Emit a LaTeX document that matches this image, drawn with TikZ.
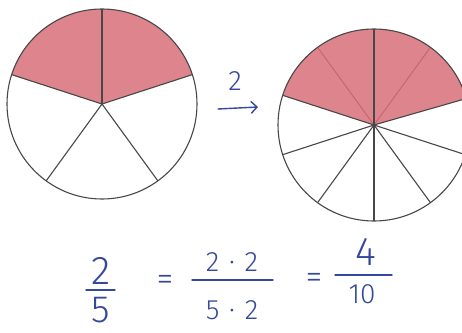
\documentclass[tikz,border=0pt]{standalone}
\usepackage{fontspec}
\setmainfont{Fira Sans Light}
\usetikzlibrary{arrows.meta}
\definecolor{ink}{RGB}{52,72,158}
\definecolor{pinkfill}{RGB}{222,132,140}
\definecolor{pinkline}{RGB}{196,100,110}
\definecolor{pencil}{RGB}{72,72,72}
\begin{document}
\begin{tikzpicture}[x=1pt,y=1pt,
  spoke/.style={draw=pencil,line width=1.1pt},
  rim/.style={draw=pencil,line width=1.1pt},
  inkline/.style={draw=ink,line width=1.4pt,line cap=round},
  big/.style={text=ink,inner sep=0pt,font=\fontsize{40}{40}\selectfont},
  mid/.style={text=ink,inner sep=0pt,font=\fontsize{28}{28}\selectfont},
  eqs/.style={text=ink,inner sep=0pt,font=\fontsize{34}{34}\selectfont}]
\useasboundingbox (0,0) rectangle (462,332);
\clip (0,0) rectangle (462,332);
\fill[white] (0,0) rectangle (462,332);
% left circle
\coordinate (L) at (102,228);
\fill[pinkfill] (L) -- ++(18:95) arc[start angle=18,end angle=162,radius=95] -- cycle;
\foreach \a in {90,162,234,306,18} \draw[spoke] (L) -- ++(\a:95);
\draw[rim] (L) circle[radius=95];
% right circle
\coordinate (R) at (374,207);
\fill[pinkfill] (R) -- ++(16:96) arc[start angle=16,end angle=162,radius=96] -- cycle;
\foreach \a in {126,54} \draw[draw=pinkline,line width=0.9pt] (R) -- ++(\a:96);
\foreach \a in {90,162,16,198,234,270,306,342} \draw[spoke] (R) -- ++(\a:96);
\draw[rim] (R) circle[radius=96];
% arrow
\node[mid] (k) at (235,251) {2};
\coordinate (a1) at (218,223);
\coordinate (a2) at (258,225);
\draw[inkline,-{Straight Barb[length=6pt,width=12pt]}] (a1) -- (a2);
% equation
\node[big,anchor=base] (n1) at (101,48) {2};
\node[big,anchor=base,font=\fontsize{38}{38}\selectfont] (d1) at (101,10) {5};
\coordinate (b1s) at (86,42); \coordinate (b1e) at (115,42);
\draw[inkline] (b1s) -- (b1e);
\node[eqs] (e1) at (165,49) {=};
\node[mid] (n2) at (232,70) {2\hspace{0.35em}·\hspace{0.35em}2};
\node[mid] (d2) at (232,22) {5\hspace{0.35em}·\hspace{0.35em}2};
\coordinate (b2s) at (192,52); \coordinate (b2e) at (273,52);
\draw[inkline] (b2s) -- (b2e);
\node[eqs] (e2) at (314,51) {=};
\node[big] (n3) at (366,80) {4};
\node[mid] (d3) at (362,38) {10};
\coordinate (b3s) at (335,57); \coordinate (b3e) at (392,57);
\draw[inkline] (b3s) -- (b3e);
\end{tikzpicture}
\end{document}
